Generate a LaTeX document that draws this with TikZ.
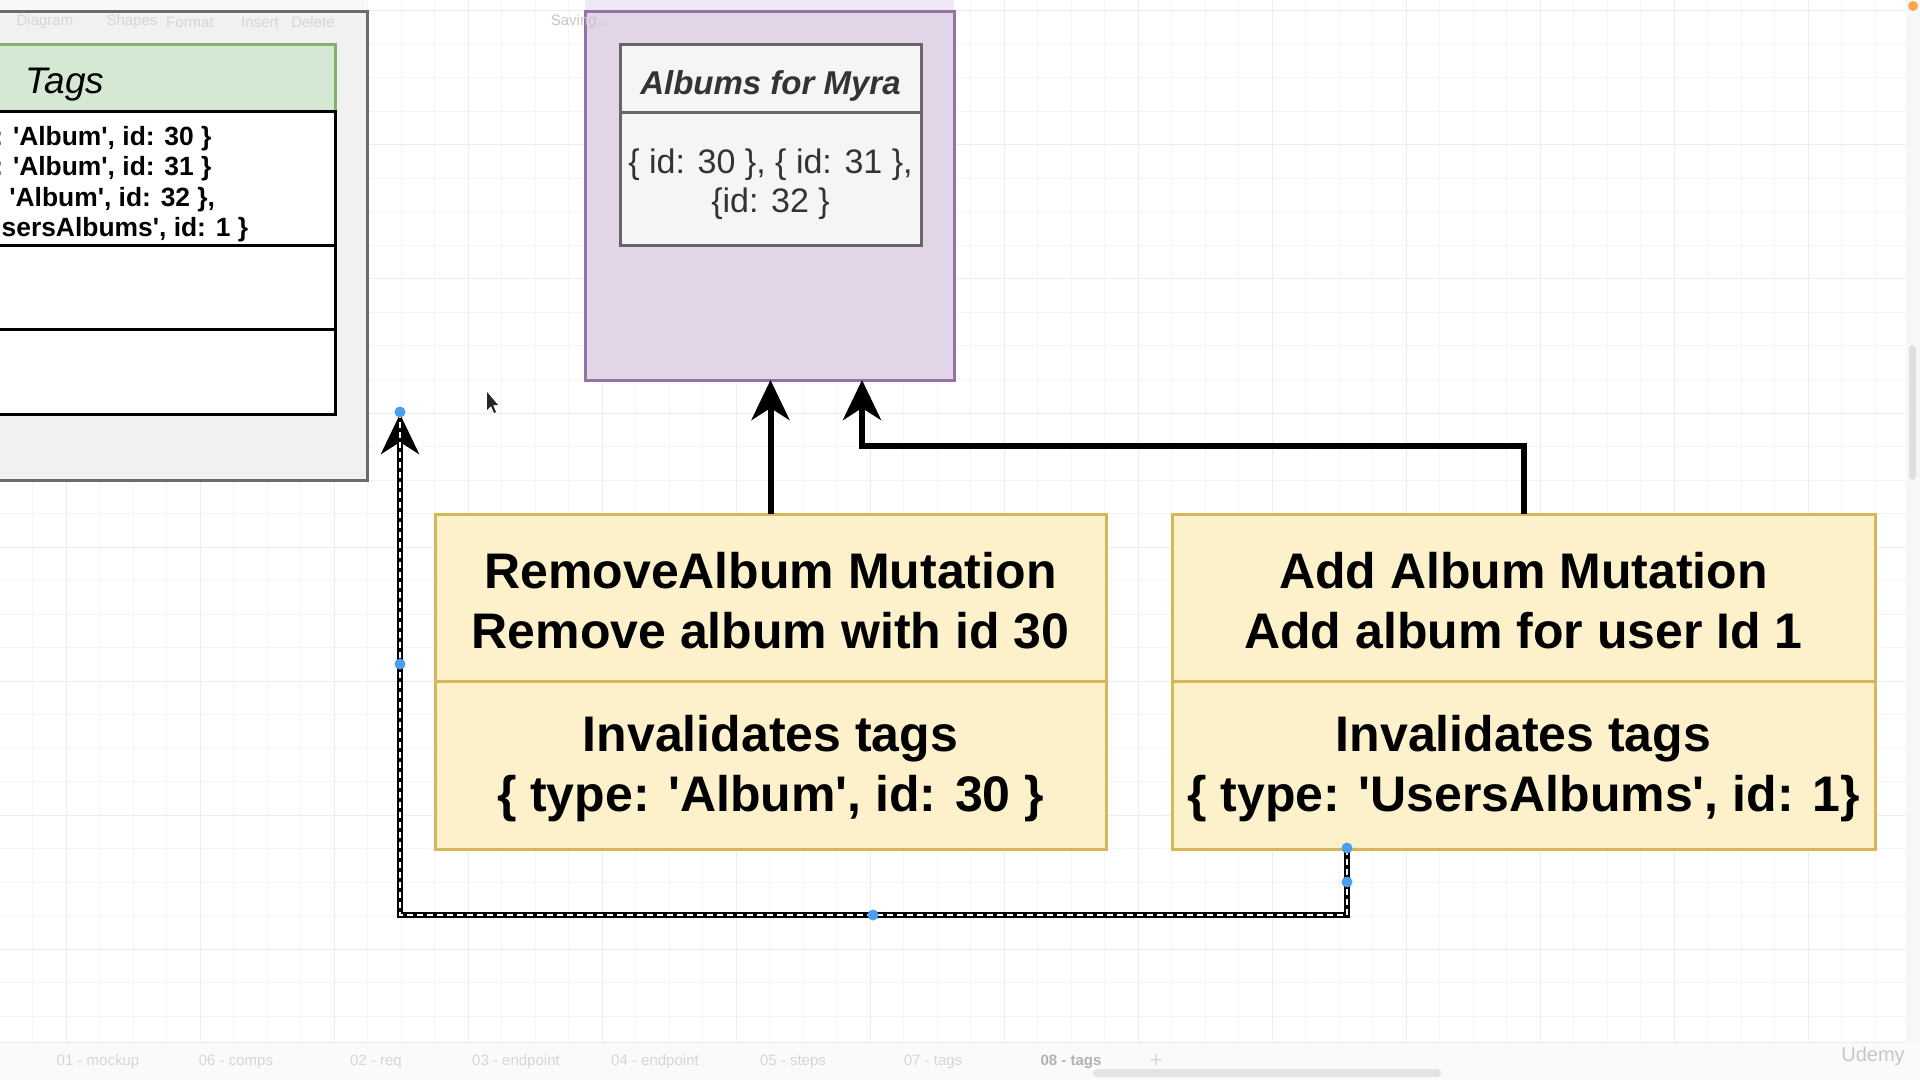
\documentclass[tikz,border=0pt]{standalone}
\usepackage{fontspec}
\setmainfont{Liberation Sans}[Ligatures=TeXOff]
\usetikzlibrary{arrows.meta,positioning}

\definecolor{noteFill}{HTML}{FCF1CB}
\definecolor{noteLine}{HTML}{D6B656}
\definecolor{myraFill}{HTML}{E1D5E7}
\definecolor{myraLine}{HTML}{9673A6}
\definecolor{tagsFill}{HTML}{D5E8D4}
\definecolor{tagsLine}{HTML}{82B366}
\definecolor{panelFill}{HTML}{F1F1F1}
\definecolor{panelLine}{HTML}{6B6B6B}
\definecolor{cacheFill}{HTML}{F5F5F5}
\definecolor{cacheLine}{HTML}{666666}
\definecolor{handleBlue}{HTML}{4A9FF0}
\definecolor{uiText}{HTML}{D6D6D6}

% strut that pushes a node's text down a little
\newcommand{\dropby}[1]{\rule{0pt}{#1}}

\tikzset{
  box/.style={draw, rectangle, inner sep=0pt, outer sep=0pt, line width=1.5pt, align=center},
  mutbox/.style={box, draw=noteLine, fill=noteFill, minimum height=83.75pt,
    font=\fontsize{25}{30}\selectfont\bfseries},
  cachebox/.style={box, draw=cacheLine, fill=cacheFill, text=black!80, minimum width=150.5pt},
  rowbox/.style={box, draw=black, fill=white, minimum width=270pt},
  flow/.style={line width=3pt, ->},
  selflow/.style={line width=3pt, ->,
    postaction={draw=white, line width=0.8pt, dash pattern=on 3pt off 2pt, -}},
  handle/.style={fill=handleBlue},
  uilabel/.style={text=uiText, font=\fontsize{7.5}{9}\selectfont},
}

\begin{document}
\begin{tikzpicture}[x=0.5pt, y=-0.5pt, >={Stealth[length=20pt, width=19pt, inset=6pt]}]
	\useasboundingbox (0,0) rectangle (1920,1080);
	\clip (0,0) rectangle (1920,1080);
	\fill[white] (0,0) rectangle (1920,1080);
	% canvas grid
	\draw[black!4, line width=0.5pt, xshift=-0.5pt, yshift=-5.5pt, step=16.75pt] (0,-20) grid (1910,1050);
	\draw[black!7, line width=0.5pt, xshift=-0.5pt+33.5pt, yshift=-5.5pt, step=67pt] (-140,-20) grid (1910,1050);

	% query cache panel with tags table
	\fill[panelFill!50] (-300,0) rectangle (367,12);
	\node[box, draw=panelLine, fill=panelFill, minimum width=305.5pt, minimum height=234pt] (panel) at (62,246) {};
	\node[box, draw=tagsLine, fill=tagsFill, minimum width=270pt, minimum height=33.5pt,
		font=\fontsize{18.5}{22}\selectfont\itshape] (tagsHead) at (65,78.5) {\dropby{19.2pt}Tags};
	\node[rowbox, minimum height=67pt, below=0pt of tagsHead, font=\fontsize{13.2}{15.3}\selectfont\bfseries] (tagsRows) {\dropby{14.7pt}\hspace{2pt}\{ type: 'Album', id: 30 \}\\\hspace{2pt}\{ type: 'Album', id: 31 \}\\\hspace{2pt}\{ type: 'Album', id: 32 \},\\\hspace{2pt}\{ type: 'UsersAlbums', id: 1 \}};
	\node[rowbox, minimum height=41.75pt, below=0pt of tagsRows] (tagsRowB) {};
	\node[rowbox, minimum height=42.25pt, below=0pt of tagsRowB] (tagsRowC) {};

	% cached albums for Myra
	\fill[myraFill!55] (585,0) rectangle (954,12);
	\node[box, draw=myraLine, fill=myraFill, minimum width=184.5pt, minimum height=184pt] (myra) at (769.5,196) {};
	\node[cachebox, minimum height=34pt, font=\fontsize{16.5}{20}\selectfont\bfseries\itshape] (myraHead) at (770.5,79) {\dropby{19.4pt}Albums for Myra};
	\node[cachebox, minimum height=66.5pt, below=0pt of myraHead, font=\fontsize{17}{19.5}\selectfont] (myraIds) {\dropby{17.4pt}\{ id: 30 \}, \{ id: 31 \},\\\{id: 32 \}};

	% mutations
	\node[mutbox, minimum width=335.5pt] (rmHead) at (770.5,597.75) {\dropby{21.2pt}RemoveAlbum Mutation\\Remove album with id 30};
	\node[mutbox, minimum width=335.5pt, below=0pt of rmHead] (rmTags) {\dropby{21.2pt}Invalidates tags\\\{ type: 'Album', id: 30 \}};
	\node[mutbox, minimum width=351.5pt] (addHead) at (1523.5,597.75) {\dropby{21.2pt}Add Album Mutation\\Add album for user Id 1};
	\node[mutbox, minimum width=351.5pt, below=0pt of addHead] (addTags) {\dropby{21.2pt}Invalidates tags\\\{ type: 'UsersAlbums', id: 1\}};

	% connectors
	\coordinate (tagsTip) at (400,414);
	\draw[flow] (rmHead.north) -- (rmHead.north |- myra.south);
	\draw[flow] (addHead.north) -- ++(0,-68) -| ([xshift=46.25pt]myra.south);
	\draw[selflow] ([xshift=-88.25pt]addTags.south) -- ++(0,66) -| (tagsTip);
	\foreach \hx/\hy in {400/412, 400/664, 873/915, 1347/882, 1347/848}
		\fill[handle] (\hx,\hy) circle (2.75pt);

	% mouse pointer
	\fill[black!85] (487,392) -- (487,410) -- (491,406) -- (494,413) -- (496,412) -- (493,405) -- (498,405) -- cycle;

	% editor chrome
	\fill[black!3] (1906,0) rectangle (1920,1042);
	\fill[black!12, rounded corners=2pt] (1909,345) rectangle (1916,480);
	\fill[orange!70] (1913,6) circle (2.5pt);
	\fill[black!2] (0,1042) rectangle (1920,1080);
	\draw[black!8] (0,1042) -- (1906,1042);
	\fill[black!11, rounded corners=2pt] (1093,1069) rectangle (1441,1077);
	\foreach \tx/\tname in {98/01 - mockup, 236/06 - comps, 376/02 - req, 516/03 - endpoint, 655/04 - endpoint, 793/05 - steps, 933/07 - tags}
		\node[uilabel] at (\tx,1062) {\tname};
	\node[uilabel, text=black!30, font=\fontsize{7.5}{9}\selectfont\bfseries] at (1071,1062) {08 - tags};
	\node[uilabel, font=\fontsize{11}{12}\selectfont] at (1156,1061) {+};
	\node[text=black!22, font=\fontsize{10}{12}\selectfont] at (1873,1056) {Udemy};
	\foreach \tx/\tname in {45/Diagram, 132/Shapes, 190/Format, 260/Insert, 313/Delete}
		\node[uilabel] at (\tx,22) {\tname};
	\node[uilabel, text=black!22] at (580,22) {Saving{.}{.}{.}};
\end{tikzpicture}
\end{document}
